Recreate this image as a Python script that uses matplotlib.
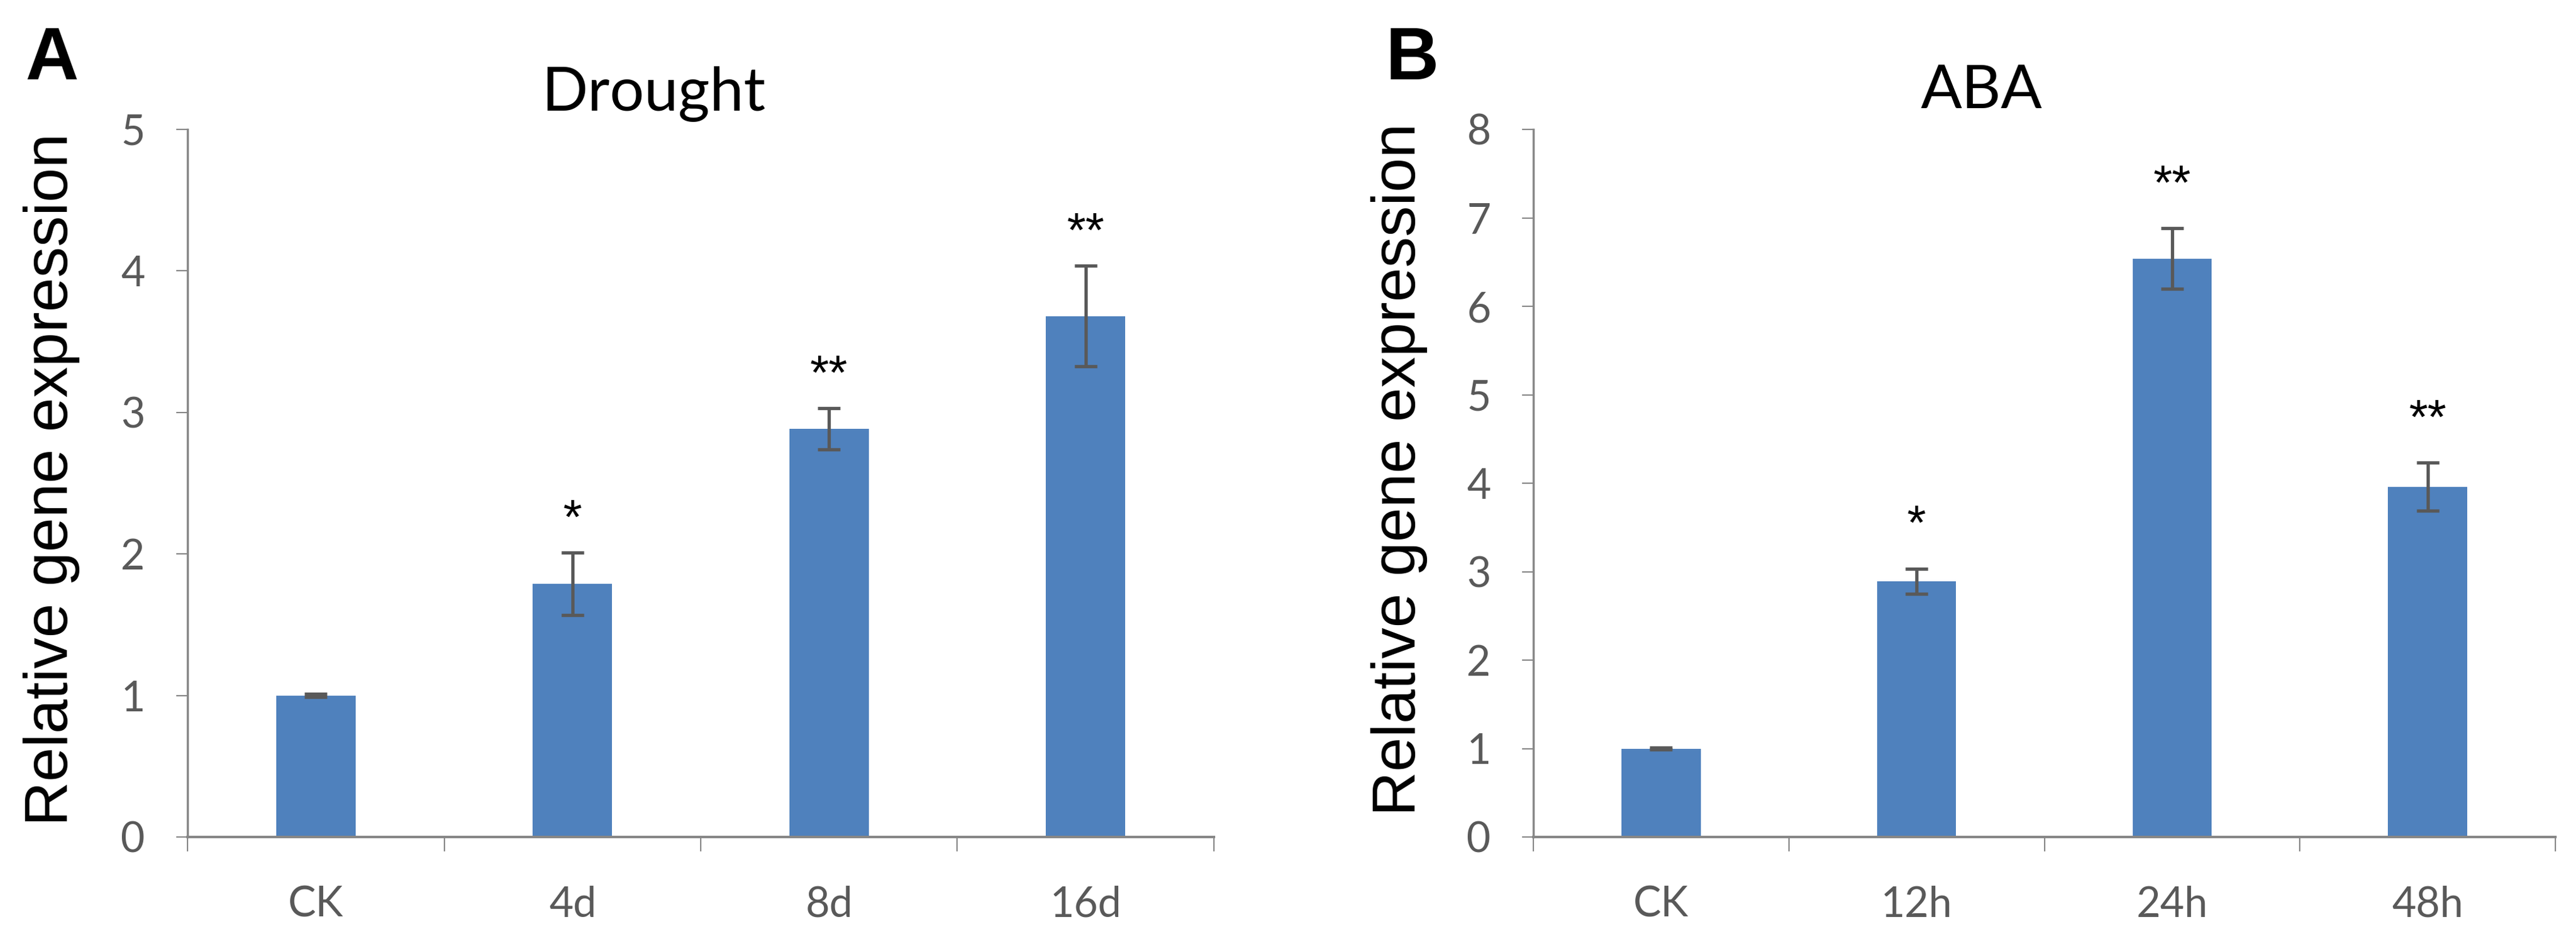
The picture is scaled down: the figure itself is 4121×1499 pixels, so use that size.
import matplotlib
matplotlib.use('Agg')
import matplotlib.pyplot as plt
import numpy as np

# ---------------- data ----------------
categories_a = ['CK', '4d', '8d', '16d']
values_a = [1.0, 1.79, 2.885, 3.68]
errors_a = [0.01, 0.22, 0.145, 0.355]
signif_a = ['', '*', '**', '**']
yticks_a = [0, 1, 2, 3, 4, 5]

categories_b = ['CK', '12h', '24h', '48h']
values_b = [1.0, 2.89, 6.54, 3.96]
errors_b = [0.01, 0.14, 0.34, 0.27]
signif_b = ['', '*', '**', '**']
yticks_b = [0, 1, 2, 3, 4, 5, 6, 7, 8]

title_a = 'Drought'
title_b = 'ABA'
ylabel = 'Relative gene expression'

# ---------------- style ----------------
W, H = 4121, 1499
DPI = 100
BAR = '#4F81BD'
ERR = '#595959'
AXC = '#878787'
TXT = '#595959'
TICKFONT = 'Lato'
TITLEFONT = 'Lato'
LABELFONT = 'Liberation Sans'

fig = plt.figure(figsize=(W / DPI, H / DPI), dpi=DPI)
fig.patch.set_facecolor('white')


def px_rect(l, r, t, b):
    return [l / W, 1 - b / H, (r - l) / W, (b - t) / H]


def panel(rect, cats, vals, errs, sig, yticks, star_off):
    ax = fig.add_axes(rect)
    x = np.arange(len(cats))
    ax.bar(x, vals, width=0.31, color=BAR, zorder=2)
    ax.errorbar(x, vals, yerr=errs, fmt='none', ecolor=ERR, elinewidth=3.8,
                capsize=13, capthick=3.8, zorder=3)
    for xi, v, e, s in zip(x, vals, errs, sig):
        if s:
            ax.annotate(s, xy=(xi, v + e), xytext=(0, star_off),
                        textcoords='offset points', ha='center', va='baseline',
                        fontsize=56, family=LABELFONT, color='black')
    ax.set_xlim(-0.5, len(cats) - 0.5)
    ax.set_ylim(yticks[0], yticks[-1])
    ax.set_yticks(yticks)
    ax.set_yticklabels([str(t) for t in yticks], family=TICKFONT, fontsize=48, color=TXT)
    ax.set_xticks(x)
    ax.set_xticklabels(cats, family=TICKFONT, fontsize=48, color=TXT)
    ax.set_xticks(np.arange(-0.5, len(cats), 1.0), minor=True)
    ax.tick_params(axis='x', which='major', length=0, pad=56)
    ax.tick_params(axis='x', which='minor', length=16.5, width=1.5, color=AXC, direction='out')
    ax.tick_params(axis='y', which='major', length=13, width=1.5, color=AXC, direction='out', pad=36)
    for sp in ['top', 'right']:
        ax.spines[sp].set_visible(False)
    ax.spines['left'].set_color(AXC)
    ax.spines['left'].set_linewidth(2.5)
    ax.spines['bottom'].set_color(AXC)
    ax.spines['bottom'].set_linewidth(2.9)
    ax.set_facecolor('none')
    return ax


ax_a = panel(px_rect(300, 1942, 207, 1339), categories_a, values_a, errors_a,
             signif_a, yticks_a, 22)
ax_b = panel(px_rect(2453, 4088, 207, 1339), categories_b, values_b, errors_b,
             signif_b, yticks_b, 34)

# titles
fig.text(1045 / W, 1 - 177 / H, title_a, ha='center', va='baseline',
         family=TITLEFONT, fontsize=70, color='black')
fig.text(3170 / W, 1 - 173 / H, title_b, ha='center', va='baseline',
         family=TITLEFONT, fontsize=70, color='black')

# y labels
fig.text(83 / W, 1 - 767 / H, ylabel, rotation=90, ha='center', va='center',
         family=LABELFONT, fontsize=71, color='black')
fig.text(2238 / W, 1 - 751 / H, ylabel, rotation=90, ha='center', va='center',
         family=LABELFONT, fontsize=71, color='black')

# panel letters
fig.text(40 / W, 1 - 127 / H, 'A', ha='left', va='baseline',
         family=LABELFONT, fontweight='bold', fontsize=85, color='black')
fig.text(2216 / W, 1 - 127 / H, 'B', ha='left', va='baseline',
         family=LABELFONT, fontweight='bold', fontsize=85, color='black')

fig.savefig('out.png', dpi=DPI, facecolor='white')
